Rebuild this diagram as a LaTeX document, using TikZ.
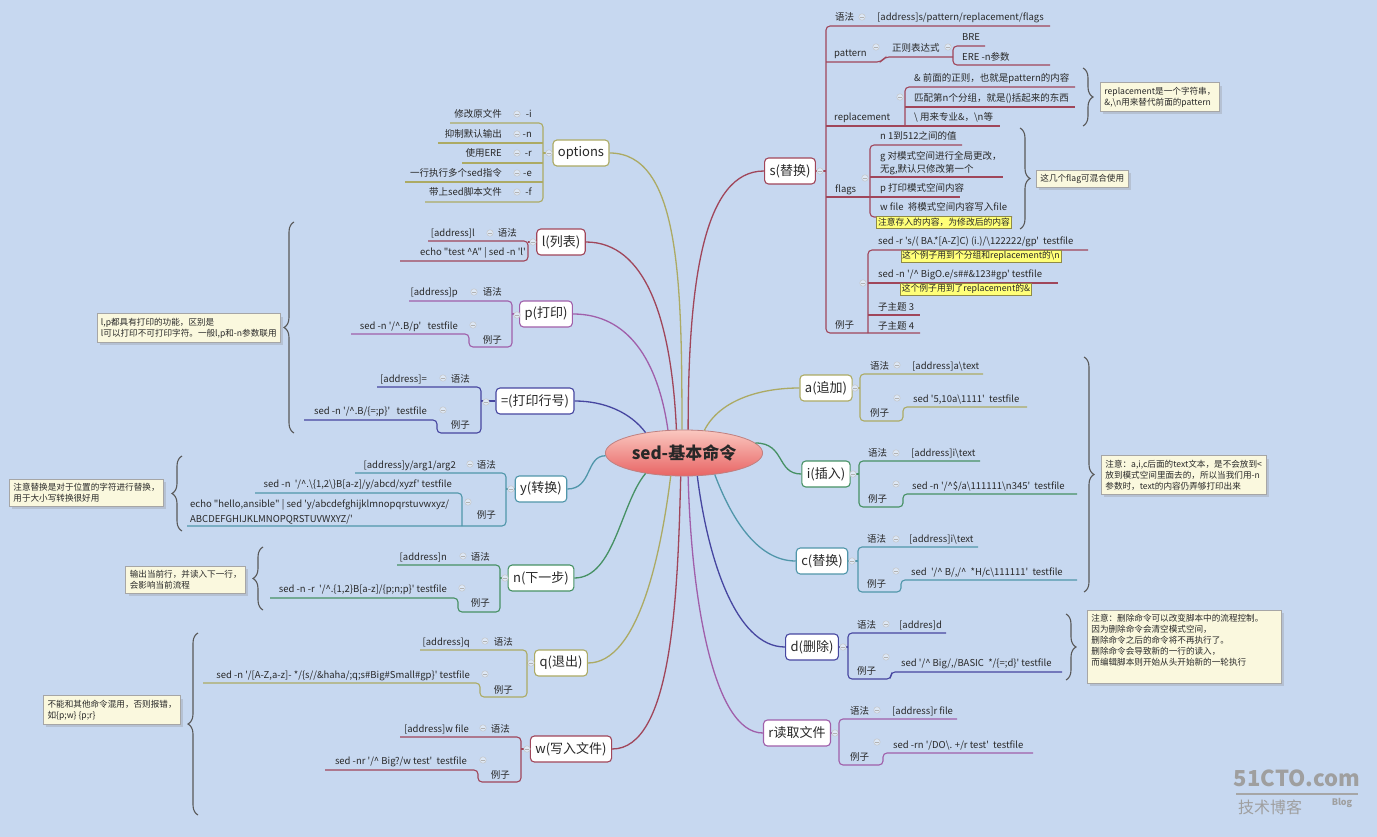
\documentclass[tikz,border=0pt]{standalone}
\usepackage{fontspec}
\setmainfont{Noto Sans CJK SC}[Ligatures=TeXOff]
\usetikzlibrary{shapes.geometric,decorations.pathreplacing,shadows}

\definecolor{bg}{RGB}{199,216,240}
\definecolor{txt}{RGB}{40,40,40}
\definecolor{rosec}{RGB}{160,70,90}
\definecolor{olivec}{RGB}{172,170,100}
\definecolor{purplec}{RGB}{160,95,170}
\definecolor{bluec}{RGB}{70,70,160}
\definecolor{tealc}{RGB}{80,150,170}
\definecolor{greenc}{RGB}{70,145,100}
\definecolor{notefill}{RGB}{250,248,222}
\definecolor{tagfill}{RGB}{255,255,120}

\tikzset{
  lab/.style={font=\fontsize{9.5}{13}\selectfont, text=txt, inner sep=0pt, anchor=base west},
  labr/.style={lab, anchor=base east},
  topic/.style={draw, fill=white, rounded corners=4pt, line width=1.1pt,
    font=\fontsize{13}{15}\selectfont, text=txt, minimum height=26pt, inner xsep=5pt},
  br/.style={line width=1.1pt, rounded corners=4pt},
  mainline/.style={line width=1.3pt},
  note/.style={draw=gray!70, line width=0.8pt, fill=notefill, text=txt,
    font=\fontsize{8.6}{11}\selectfont, align=left, inner sep=4pt,
    drop shadow={opacity=0.25}},
  tag/.style={draw=yellow!50!black, line width=0.4pt, fill=tagfill, text=txt,
    font=\fontsize{8.8}{10}\selectfont, inner sep=1.5pt},
  brace/.style={decorate, decoration={brace, amplitude=10pt},
    draw=gray!70!black, line width=1.1pt},
  fold/.pic={\draw[gray!45, fill=bg!60!white, line width=0.5pt] (0,0) circle (3.2pt);
    \draw[gray!60, line width=0.6pt] (-1.6pt,0) -- (1.6pt,0);}
}

\begin{document}
\begin{tikzpicture}[x=1pt,y=-1pt]
  % 背景
  \fill[bg] (0,0) rectangle (1377,837);
  \useasboundingbox (0,0) rectangle (1377,837);

  % 中心主题
  \node[ellipse, draw=red!50!black!50, line width=0.8pt,
    top color={rgb,255:red,250;green,200;blue,192},
    bottom color={rgb,255:red,232;green,100;blue,100},
    minimum width=148pt, minimum height=46pt, text=txt,
    font=\bfseries\fontsize{17}{19}\selectfont] (core) at (684,453) {sed-基本命令};

  % 左侧命令
  \node[topic, draw=olivec] (opts) at (581,153) {options};
  \node[topic, draw=rosec] (lcmd) at (561,242) {l(列表)};
  \node[topic, draw=purplec] (pcmd) at (546,314) {p(打印)};
  \node[topic, draw=bluec] (eqcmd) at (535,401) {=(打印行号)};
  \node[topic, draw=tealc] (ycmd) at (541,489) {y(转换)};
  \node[topic, draw=greenc] (ncmd) at (541,578) {n(下一步)};
  \node[topic, draw=olivec] (qcmd) at (561,663) {q(退出)};
  \node[topic, draw=rosec] (wcmd) at (571,749) {w(写入文件)};
  % 右侧命令
  \node[topic, draw=rosec] (scmd) at (790,171) {s(替换)};
  \node[topic, draw=olivec] (acmd) at (826,388) {a(追加)};
  \node[topic, draw=greenc] (icmd) at (826,474) {i(插入)};
  \node[topic, draw=tealc] (ccmd) at (822,561) {c(替换)};
  \node[topic, draw=bluec] (dcmd) at (812,647) {d(删除)};
  \node[topic, draw=purplec] (rcmd) at (797,733) {r读取文件};

  % 中心到各命令的曲线
  \draw[mainline, olivec] (core.95) .. controls +(0,-150) and +(70,0) .. (opts.east);
  \draw[mainline, rosec] (core.108) .. controls +(-5,-110) and +(60,0) .. (lcmd.east);
  \draw[mainline, purplec] (core.125) .. controls +(-10,-70) and +(55,0) .. (pcmd.east);
  \draw[mainline, bluec] (core.152) .. controls +(-15,-20) and +(30,0) .. (eqcmd.east);
  \draw[mainline, tealc] (core.182) .. controls +(-20,0) and +(25,0) .. (ycmd.east);
  \draw[mainline, greenc] (core.208) .. controls +(-25,30) and +(40,0) .. (ncmd.east);
  \draw[mainline, olivec] (core.240) .. controls +(-10,80) and +(50,0) .. (qcmd.east);
  \draw[mainline, rosec] (core.262) .. controls +(-3,120) and +(60,0) .. (wcmd.east);
  \draw[mainline, rosec] (core.80) .. controls +(0,-150) and +(-60,0) .. (scmd.west);
  \draw[mainline, olivec] (core.48) .. controls +(15,-30) and +(-40,0) .. (acmd.west);
  \draw[mainline, greenc] (core.8) .. controls +(30,0) and +(-25,0) .. (icmd.west);
  \draw[mainline, tealc] (core.-35) .. controls +(15,40) and +(-40,0) .. (ccmd.west);
  \draw[mainline, bluec] (core.-60) .. controls +(10,80) and +(-50,0) .. (dcmd.west);
  \draw[mainline, purplec] (core.-80) .. controls +(3,120) and +(-50,0) .. (rcmd.west);

  % s(替换)
  \draw[br, rosec] (scmd.east) -- (826,171);
  \draw[br, rosec] (1050,26) -- (826,26) -- (826,333) -- (920,333);
  \draw[br, rosec] (826,62) -- (881,62) -- (885,57) -- (953,57);
  \draw[br, rosec] (985,46) -- (953,46) -- (953,65) -- (1050,65);
  \draw[br, rosec] (826,126) -- (1000,126);
  \draw[br, rosec] (1075,87) -- (905,87) -- (905,126);
  \draw[br, rosec] (905,107) -- (1075,107);
  \draw[br, rosec] (826,197) -- (960,197);
  \draw[br, rosec] (962,145) -- (870,145) -- (870,217) -- (1012,217);
  \draw[br, rosec] (870,177) -- (1003,177);
  \draw[br, rosec] (868,333) -- (868,250) -- (1088,250);
  \draw[br, rosec] (868,283) -- (1058,283);
  \draw[br, rosec] (868,315) -- (920,315);
  \node[lab] (ssyn) at (835,21) {语法};
  \node[lab] (ssynv) at (877,21) {[address]s/pattern/replacement/flags};
  \node[lab] (spat) at (834,57) {pattern};
  \node[lab] (sre) at (892,52) {正则表达式};
  \node[lab] (sbre) at (962,41) {BRE};
  \node[lab] (sere) at (962,61) {ERE -n参数};
  \node[lab] (srep) at (834,121) {replacement};
  \node[lab] (srepa) at (914,82) {\& 前面的正则，也就是pattern的内容};
  \node[lab] (srepb) at (914,102) {匹配第n个分组，就是()括起来的东西};
  \node[lab] (srepc) at (914,121) {\textbackslash{} 用来专业\&，\textbackslash n等};
  \node[lab] (sflg) at (835,193) {flags};
  \node[lab] (sflgn) at (880,140) {n 1到512之间的值};
  \node[lab, anchor=north west, align=left] (sflgg) at (880,151) {g 对模式空间进行全局更改，\\无g,默认只修改第一个};
  \node[lab] (sflgp) at (880,192) {p 打印模式空间内容};
  \node[lab] (sflgw) at (880,211) {w file~~将模式空间内容写入file};
  \node[tag] (sflgtag) at (944,222) {注意存入的内容，为修改后的内容};
  \node[lab] (sex) at (835,328) {例子};
  \node[lab] (sexa) at (878,245) {sed -r 's/( BA.*[A-Z]C) (i.)/\textbackslash 122222/gp'~~testfile};
  \node[tag] (sexatag) at (981,256) {这个例子用到个分组和replacement的\textbackslash n};
  \node[lab] (sexb) at (878,278) {sed -n '/\textasciicircum{} BigO.e/s\#\#\&123\#gp' testfile};
  \node[tag] (sexbtag) at (966,289) {这个例子用到了replacement的\&};
  \node[lab] (sexc) at (878,310) {子主题 3};
  \node[lab] (sexd) at (878,329) {子主题 4};
  \draw[brace] (1083,68) -- (1083,126);
  \node[note, anchor=west] (repnote) at (1100,97) {replacement是一个字符串，\\\&,\textbackslash n用来替代前面的pattern};
  \draw[brace] (1020,128) -- (1020,229);
  \node[note, anchor=west] (flagnote) at (1036,179) {这几个flag可混合使用};

  % a(追加)
  \draw[br, olivec] (acmd.east) -- (860,388);
  \draw[br, olivec] (983,374) -- (860,374) -- (860,421) -- (903,421) -- (903,407) -- (1027,407);
  \node[lab] (asyn) at (870,369) {语法};
  \node[lab] (asynv) at (912,369) {[address]a\textbackslash text};
  \node[lab] (aex) at (870,416) {例子};
  \node[lab] (aexv) at (913,402) {sed '5,10a\textbackslash 1111'~~testfile};

  % i(插入)
  \draw[br, greenc] (icmd.east) -- (859,474);
  \draw[br, greenc] (980,461) -- (859,461) -- (859,507) -- (903,507) -- (903,494) -- (1077,494);
  \node[lab] (isyn) at (868,456) {语法};
  \node[lab] (isynv) at (911,456) {[address]i\textbackslash text};
  \node[lab] (iex) at (868,502) {例子};
  \node[lab] (iexv) at (912,489) {sed -n '/\textasciicircum\$/a\textbackslash 111111\textbackslash n345'~~testfile};

  % c(替换)
  \draw[br, tealc] (ccmd.east) -- (858,561);
  \draw[br, tealc] (978,547) -- (858,547) -- (858,592) -- (901,592) -- (901,580) -- (1077,580);
  \node[lab] (csyn) at (867,542) {语法};
  \node[lab] (csynv) at (909,542) {[address]i\textbackslash text};
  \node[lab] (cex) at (867,587) {例子};
  \node[lab] (cexv) at (911,575) {sed~~'/\textasciicircum{} B/,/\textasciicircum{}~~*H/c\textbackslash 111111'~~testfile};

  % a,i,c 的注释
  \draw[brace] (1084,357) -- (1084,592);
  \node[note, anchor=west] (aicnote) at (1101,475) {注意：a,i,c后面的text文本，是不会放到<\\放到模式空间里面去的，所以当我们用-n\\参数时，text的内容仍弄够打印出来};

  % d(删除)
  \draw[br, bluec] (dcmd.east) -- (848,647);
  \draw[br, bluec] (946,633) -- (848,633) -- (848,679) -- (891,679) -- (891,672) -- (1062,672);
  \node[lab] (dsyn) at (857,628) {语法};
  \node[lab] (dsynv) at (899,628) {[addres]d};
  \node[lab] (dex) at (857,674) {例子};
  \node[lab] (dexv) at (901,666) {sed '/\textasciicircum{} Big/,/BASIC~~*/\{=;d\}' testfile};
  \draw[brace] (1066,614) -- (1066,680);
  \node[note, anchor=north west, text width=186pt] (dnote) at (1087,610) {注意：删除命令可以改变脚本中的流程控制。\\因为删除命令会清空模式空间，\\删除命令之后的命令将不再执行了。\\删除命令会导致新的一行的读入，\\而编辑脚本则开始从头开始新的一轮执行\\[3pt]\mbox{}};

  % r读取文件
  \draw[br, purplec] (rcmd.east) -- (839,733);
  \draw[br, purplec] (957,719) -- (839,719) -- (839,765) -- (883,765) -- (883,753) -- (1033,753);
  \node[lab] (rsyn) at (850,714) {语法};
  \node[lab] (rsynv) at (892,714) {[address]r file};
  \node[lab] (rex) at (850,760) {例子};
  \node[lab] (rexv) at (893,748) {sed -rn '/DO\textbackslash . +/r test'~~testfile};

  % options
  \draw[br, olivec] (opts.west) -- (543,153);
  \draw[br, olivec] (450,123) -- (543,123) -- (543,202) -- (425,202);
  \draw[br, olivec] (438,143) -- (543,143);
  \draw[br, olivec] (462,163) -- (543,163);
  \draw[br, olivec] (405,182) -- (543,182);
  \node[labr] (opti) at (532,118) {-i};
  \node[labr] (optitxt) at (502,118) {修改原文件};
  \node[labr] (optn) at (532,138) {-n};
  \node[labr] (optntxt) at (502,138) {抑制默认输出};
  \node[labr] (optr) at (532,157) {-r};
  \node[labr] (optrtxt) at (502,157) {使用ERE};
  \node[labr] (opte) at (532,177) {-e};
  \node[labr] (optetxt) at (502,177) {一行执行多个sed指令};
  \node[labr] (optf) at (532,196) {-f};
  \node[labr] (optftxt) at (502,196) {带上sed脚本文件};

  % l(列表)
  \draw[br, rosec] (lcmd.west) -- (528,242);
  \draw[br, rosec] (428,241) -- (528,241) -- (528,261) -- (400,261);
  \node[labr] (lsyn) at (517,237) {语法};
  \node[labr] (lsynv) at (475,237) {[address]l};
  \node[labr] (lexv) at (526,256) {echo "test \textasciicircum A" | sed -n 'l'};

  % p(打印)
  \draw[br, purplec] (pcmd.west) -- (512,314);
  \draw[br, purplec] (409,301) -- (512,301) -- (512,347) -- (469,347) -- (469,334) -- (351,334);
  \node[labr] (psyn) at (502,296) {语法};
  \node[labr] (psynv) at (458,296) {[address]p};
  \node[labr] (pex) at (502,343) {例子};
  \node[labr] (pexv) at (458,329) {sed -n '/\textasciicircum .B/p'~~~testfile};

  % =(打印行号)
  \draw[br, bluec] (eqcmd.west) -- (481,401);
  \draw[br, bluec] (377,387) -- (481,387) -- (481,433) -- (437,433) -- (437,420) -- (304,420);
  \node[labr] (eqsyn) at (470,382) {语法};
  \node[labr] (eqsynv) at (427,382) {[address]=};
  \node[labr] (eqex) at (470,428) {例子};
  \node[labr] (eqexv) at (427,414) {sed -n '/\textasciicircum .B/\{=;p\}'~~~testfile};
  \draw[brace] (294,433) -- (294,222);
  \node[note, anchor=east] (lpnote) at (281,328) {l,p都具有打印的功能，区别是\\l可以打印不可打印字符。一般l,p和-n参数联用};

  % y(转换)
  \draw[br, tealc] (ycmd.west) -- (506,489);
  \draw[br, tealc] (355,473) -- (506,473) -- (506,526) -- (187,526);
  \draw[br, tealc] (255,493) -- (462,493) -- (462,526);
  \node[labr] (ysyn) at (496,468) {语法};
  \node[labr] (ysynv) at (456,468) {[address]y/arg1/arg2};
  \node[labr] (yex) at (496,518) {例子};
  \node[labr] (yexa) at (452,487) {sed -n~~'/\textasciicircum .\textbackslash\{1,2\textbackslash\}B[a-z]/y/abcd/xyzf' testfile};
  \node[lab, anchor=north west, align=left, font=\fontsize{9.5}{15}\selectfont] (yexb) at (190,499) {echo "hello,ansible" | sed 'y/abcdefghijklmnopqrstuvwxyz/\\ABCDEFGHIJKLMNOPQRSTUVWXYZ/'};
  \draw[brace] (182,531) -- (182,456);
  \node[note, anchor=east] (ynote) at (164,493) {注意替换是对于位置的字符进行替换，\\用于大小写转换很好用};

  % n(下一步)
  \draw[br, greenc] (ncmd.west) -- (500,578);
  \draw[br, greenc] (397,565) -- (500,565) -- (500,612) -- (458,612) -- (458,598) -- (270,598);
  \node[labr] (nsyn) at (490,560) {语法};
  \node[labr] (nsynv) at (447,560) {[address]n};
  \node[labr] (nex) at (490,606) {例子};
  \node[labr] (nexv) at (447,592) {sed -n -r~~'/\textasciicircum .\{1,2\}B[a-z]/\{p;n;p\}' testfile};
  \draw[brace] (263,610) -- (263,547);
  \node[note, anchor=east] (nnote) at (246,580) {输出当前行，并读入下一行，\\会影响当前流程};

  % q(退出)
  \draw[br, olivec] (qcmd.west) -- (527,663);
  \draw[br, olivec] (420,650) -- (527,650) -- (527,697) -- (480,697) -- (480,683) -- (203,683);
  \node[labr] (qsyn) at (513,645) {语法};
  \node[labr] (qsynv) at (470,645) {[address]q};
  \node[labr] (qex) at (513,693) {例子};
  \node[labr] (qexv) at (470,678) {sed -n '/[A-Z,a-z]- */\{s//\&haha/;q;s\#Big\#Small\#gp\}' testfile};

  % w(写入文件)
  \draw[br, rosec] (wcmd.west) -- (521,749);
  \draw[br, rosec] (400,737) -- (521,737) -- (521,782) -- (478,782) -- (478,770) -- (325,770);
  \node[labr] (wsyn) at (510,732) {语法};
  \node[labr] (wsynv) at (469,732) {[address]w file};
  \node[labr] (wex) at (510,778) {例子};
  \node[labr] (wexv) at (467,764) {sed -nr '/\textasciicircum{} Big?/w test'~~testfile};
  \draw[brace] (198,815) -- (198,633);
  \node[note, anchor=east] (qwnote) at (181,710) {不能和其他命令混用，否则报错，\\如\{p;w\} \{p;r\}};

  % 折叠按钮
  \foreach \x/\y in {820/171, 862/17, 876/47, 948/47, 900/97, 865/178, 863/283,
      855/388, 897/365, 897/398, 853/474, 896/453, 896/484, 852/561, 896/539, 896/571,
      843/647, 886/624, 886/657, 835/733, 877/710, 877/742,
      549/153, 517/114, 517/134, 517/153, 517/173, 517/192, 533/242, 490/233,
      517/315, 474/292, 473/325, 486/402, 443/378, 443/410, 511/489, 470/464, 468/502,
      505/578, 463/556, 462/588, 531/663, 485/641, 485/674, 527/749, 483/728, 483/760}
    \pic at (\x,\y) {fold};

  % 水印
  \node[font=\bfseries\fontsize{22}{22}\selectfont, text=gray!75, inner sep=0pt] (wm) at (1297,778) {51CTO.com};
  \draw[gray!70, line width=1.5pt] (1236,794) -- (1358,794);
  \node[font=\fontsize{16}{16}\selectfont, text=gray!75, inner sep=0pt] (wmcn) at (1270,807) {技术博客};
  \node[font=\bfseries\fontsize{9}{9}\selectfont, text=gray!75, inner sep=0pt] (wmblog) at (1342,803) {Blog};
\end{tikzpicture}
\end{document}
